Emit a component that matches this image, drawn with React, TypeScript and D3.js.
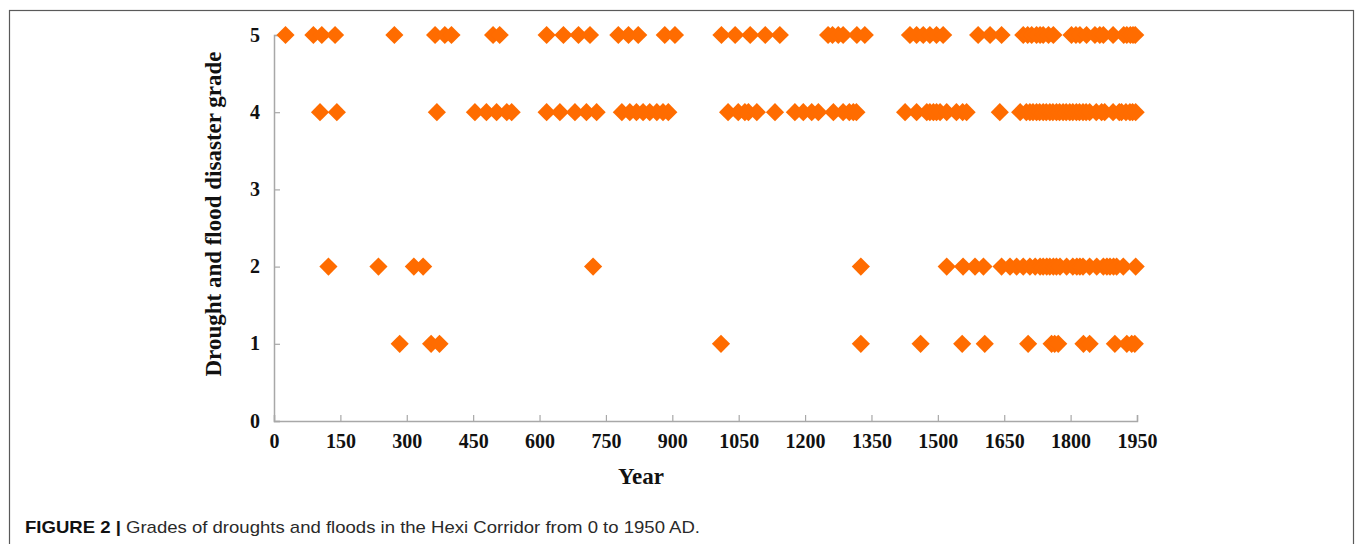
import { useEffect, useRef } from 'react';
import * as d3 from 'd3';

// years (AD) with a recorded disaster, one list per grade
const grade5Years = [26, 89, 108, 138, 272, 364, 386, 401, 495, 510, 616, 654, 688, 714, 778, 801, 823, 883, 906, 1011, 1042, 1076, 1110, 1143, 1252, 1262, 1275, 1286, 1317, 1335, 1437, 1452, 1467, 1482, 1497, 1512, 1591, 1618, 1644, 1693, 1703, 1712, 1723, 1731, 1738, 1750, 1761, 1802, 1812, 1821, 1836, 1855, 1866, 1874, 1896, 1920, 1927, 1935, 1941, 1946];
const grade4Years = [104, 142, 368, 454, 480, 503, 526, 537, 616, 646, 680, 706, 729, 786, 804, 819, 834, 849, 865, 879, 891, 1026, 1049, 1064, 1072, 1091, 1132, 1177, 1196, 1215, 1230, 1264, 1286, 1300, 1309, 1316, 1426, 1452, 1475, 1482, 1490, 1497, 1505, 1520, 1542, 1556, 1565, 1640, 1686, 1700, 1708, 1715, 1723, 1730, 1738, 1745, 1753, 1760, 1768, 1775, 1783, 1790, 1798, 1805, 1813, 1820, 1828, 1835, 1843, 1858, 1870, 1877, 1896, 1910, 1915, 1925, 1934, 1940, 1947];
const grade2Years = [123, 236, 316, 337, 721, 1326, 1520, 1557, 1584, 1603, 1644, 1663, 1678, 1693, 1708, 1720, 1731, 1738, 1746, 1753, 1761, 1768, 1776, 1791, 1805, 1814, 1821, 1828, 1843, 1859, 1874, 1882, 1889, 1897, 1904, 1919, 1947];
const grade1Years = [284, 355, 374, 1010, 1326, 1461, 1555, 1606, 1704, 1757, 1764, 1772, 1829, 1843, 1900, 1927, 1938, 1945];

const xTicks = [0, 150, 300, 450, 600, 750, 900, 1050, 1200, 1350, 1500, 1650, 1800, 1950];
const yTicks = [0, 1, 2, 3, 4, 5];

const W = 1355;
const H = 544;
const margin = { left: 274, right: 216, top: 35, bottom: 123 };
const orange = '#ff6c00';
const axisGrey = '#a8a8a8';

const App = () => {
  const ref = useRef<SVGSVGElement>(null);

  useEffect(() => {
    const svg = d3.select(ref.current);
    svg.selectAll('*').remove();

    const x = d3.scaleLinear().domain([0, 1950]).range([margin.left, W - margin.right - 2]);
    const y = d3.scaleLinear().domain([0, 5]).range([H - margin.bottom, margin.top]);

    // figure frame (bottom edge is off the page)
    svg.append('rect')
      .attr('x', 9.5).attr('y', 10.5)
      .attr('width', 1344).attr('height', 600)
      .attr('fill', 'none').attr('stroke', '#5a5a5a').attr('stroke-width', 1.2);

    const serif = '"Liberation Serif", "Times New Roman", serif';

    // axes, ticks drawn inside like the original
    const xAxis = svg.append('g')
      .attr('transform', `translate(0,${y(0)})`)
      .call(d3.axisBottom(x).tickValues(xTicks).tickFormat(d3.format('d'))
        .tickSizeInner(-6).tickSizeOuter(-6).tickPadding(13));
    const yAxis = svg.append('g')
      .attr('transform', `translate(${x(0)},0)`)
      .call(d3.axisLeft(y).tickValues(yTicks).tickFormat(d3.format('d'))
        .tickSizeInner(-6).tickSizeOuter(-6).tickPadding(14));

    [xAxis, yAxis].forEach(g => {
      g.select('.domain').attr('stroke', axisGrey).attr('stroke-width', 1.5);
      g.selectAll('.tick line').attr('stroke', axisGrey).attr('stroke-width', 1.2);
      g.selectAll('.tick text')
        .attr('fill', '#111')
        .style('font-family', serif)
        .style('font-weight', 'bold')
        .style('font-size', '20px');
    });
    yAxis.selectAll('.tick text').attr('dy', '0.3em');

    svg.append('text')
      .attr('transform', `translate(${x(0) - 61},214) rotate(-90)`)
      .attr('text-anchor', 'middle')
      .attr('dy', '0.35em')
      .style('font-family', serif).style('font-weight', 'bold').style('font-size', '23px')
      .attr('fill', '#111')
      .text('Drought and flood disaster grade');

    svg.append('text')
      .attr('x', 641)
      .attr('y', 484)
      .attr('text-anchor', 'middle')
      .style('font-family', serif).style('font-weight', 'bold').style('font-size', '23px')
      .attr('fill', '#111')
      .text('Year');

    const points = [
      ...grade5Years.map(v => ({ year: v, grade: 5 })),
      ...grade4Years.map(v => ({ year: v, grade: 4 })),
      ...grade2Years.map(v => ({ year: v, grade: 2 })),
      ...grade1Years.map(v => ({ year: v, grade: 1 })),
    ];

    const diamond = d3.symbol().type(d3.symbolSquare).size(165);
    svg.append('g')
      .selectAll('path')
      .data(points)
      .enter()
      .append('path')
      .attr('d', diamond)
      .attr('transform', d => `translate(${x(d.year)},${y(d.grade)}) rotate(45)`)
      .attr('fill', orange);

    // caption
    const cap = svg.append('text')
      .attr('x', 25)
      .attr('y', 533)
      .style('font-family', '"Liberation Sans", Arial, sans-serif')
      .style('font-size', '17px')
      .attr('textLength', 675)
      .attr('lengthAdjust', 'spacingAndGlyphs');
    cap.append('tspan').attr('font-weight', 'bold').attr('fill', '#111').text('FIGURE 2 | ');
    cap.append('tspan').attr('fill', '#2a2a2a').text('Grades of droughts and floods in the Hexi Corridor from 0 to 1950 AD.');
  }, []);

  return (
    <svg
      ref={ref}
      width={W}
      height={H}
      style={{ position: 'absolute', left: 0, top: 0, background: '#fff' }}
    />
  );
};

export default App;
